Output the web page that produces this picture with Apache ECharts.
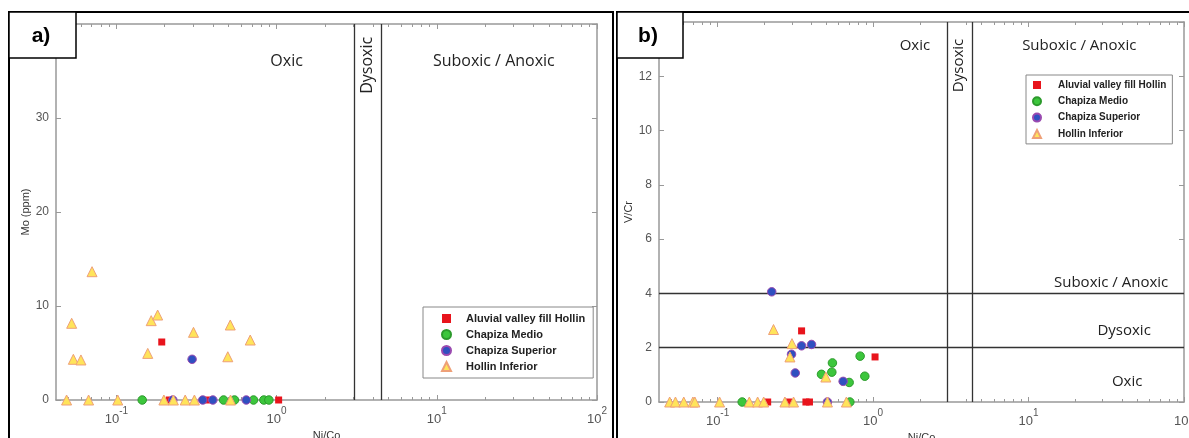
<!DOCTYPE html>
<html><head><meta charset="utf-8">
<script src="https://cdn.jsdelivr.net/npm/echarts@6/dist/echarts.min.js"></script>
<style>html,body{margin:0;padding:0;background:#fff}#c{width:1189px;height:438px}</style>
</head><body><div id="c"></div><script>
// ---------------- DATA ----------------
const seriesNames = ['Aluvial valley fill Hollin', 'Chapiza Medio', 'Chapiza Superior', 'Hollin Inferior'];

// Panel a) Ni/Co vs Mo (ppm)
const aAluvial = [[0.192, 6.17], [0.214, 0], [0.365, 0], [1.03, 0]];
const aMedio = [[0.145, 0], [0.467, 0], [0.546, 0], [0.718, 0], [0.833, 0], [0.895, 0]];
const aSuperior = [[0.297, 4.33], [0.225, 0], [0.346, 0], [0.40, 0], [0.647, 0]];
const aHollin = [[0.0705, 13.65], [0.0526, 8.16], [0.0539, 4.33], [0.0601, 4.26], [0.165, 8.44], [0.181, 9.04],
  [0.157, 4.96], [0.303, 7.2], [0.514, 7.98], [0.496, 4.6], [0.685, 6.38],
  [0.0416, 0], [0.0489, 0], [0.0671, 0], [0.102, 0], [0.198, 0], [0.227, 0], [0.269, 0], [0.307, 0], [0.516, 0]];

// Panel b) Ni/Co vs V/Cr
const bAluvial = [[0.347, 2.62], [1.03, 1.66], [0.21, 0], [0.286, 0], [0.37, 0], [0.39, 0]];
const bMedio = [[0.466, 1.02], [0.548, 1.44], [0.543, 1.1], [0.702, 0.72], [0.826, 1.69], [0.885, 0.95], [0.144, 0], [0.709, 0]];
const bSuperior = [[0.223, 4.06], [0.299, 1.76], [0.316, 1.07], [0.347, 2.07], [0.402, 2.12], [0.642, 0.76], [0.509, 0]];
const bHollin = [[0.229, 2.67], [0.301, 2.15], [0.292, 1.66], [0.497, 0.92],
  [0.0417, 0], [0.0492, 0], [0.0536, 0], [0.0606, 0], [0.0694, 0], [0.0714, 0], [0.103, 0], [0.16, 0],
  [0.181, 0], [0.198, 0], [0.271, 0], [0.308, 0], [0.509, 0], [0.674, 0]];

// Axes
const xMin = 0.042, xMax = 100;
const decadeValues = [0.1, 1, 10, 100];
const decadeExponents = ['-1', '0', '1', '2'];
const minorValues = [0.05, 0.06, 0.07, 0.08, 0.09, 0.2, 0.3, 0.4, 0.5, 0.6, 0.7, 0.8, 0.9,
  2, 3, 4, 5, 6, 7, 8, 9, 20, 30, 40, 50, 60, 70, 80, 90];
const aY = [0, 40, 10]; // min, max, interval
const bY = [0, 14, 2];
const aYName = 'Mo (ppm)';
const bYName = 'V/Cr';
const xName = 'Ni/Co';

// Redox boundaries
const aBoundaries = [3.05, 4.5];
const bBoundaries = [3.0, 4.35];
const bHorizontal = [2, 4];

// Region labels: [text, x, y, rotated]
const aRegionLabels = [['Oxic', 1.155, 36, false], ['Dysoxic', 3.7, 35.6, true], ['Suboxic / Anoxic', 22.7, 36, false]];
const bRegionLabels = [['Oxic', 1.86, 13.14, false], ['Dysoxic', 3.56, 12.4, true], ['Suboxic / Anoxic', 21.2, 13.14, false],
  ['Suboxic / Anoxic', 34.0, 4.41, false], ['Dysoxic', 41.2, 2.64, false], ['Oxic', 43.1, 0.73, false]];

// ---------------- STYLES ----------------
const markerStyles = [
  { symbol: 'rect', symbolSize: 7, itemStyle: { color: '#e8141c', opacity: 1 } },
  { symbol: 'circle', symbolSize: 8.5, itemStyle: { color: '#3cc63c', borderColor: '#2c9a2c', borderWidth: 1, opacity: 1 } },
  { symbol: 'circle', symbolSize: 8.5, itemStyle: { color: '#2f50c0', borderColor: '#9a4ab0', borderWidth: 1, opacity: 1 } },
  { symbol: 'triangle', symbolSize: 10, itemStyle: { color: '#ffe45a', borderColor: '#eea078', borderWidth: 1, opacity: 1 } }
];
const axisColor = '#999';
const labelFont = 'Liberation Sans, Arial, sans-serif';
const regionFont = 'Open Sans, Noto Sans, sans-serif';

function expFormatter(v) {
  const lg = Math.log10(v);
  let idx = 0, best = 1e9;
  decadeValues.forEach((d, i) => { const e = Math.abs(Math.log10(d) - lg); if (e < best) { best = e; idx = i; } });
  return '{b|10}{s|' + decadeExponents[idx] + '}';
}

function makeXAxes(gridIndex) {
  const base = { type: 'log', logBase: 10, min: xMin, max: xMax, gridIndex: gridIndex, splitLine: { show: false } };
  return [
    Object.assign({}, base, {
      position: 'bottom',
      axisLine: { show: true, lineStyle: { color: axisColor, width: 1.5 } },
      axisTick: { show: true, inside: true, length: 5, customValues: decadeValues, lineStyle: { color: axisColor } },
      axisLabel: {
        show: true, customValues: decadeValues, formatter: expFormatter, margin: 6, color: '#555',
        fontFamily: labelFont,
        rich: {
          b: { fontSize: 13, color: '#555', lineHeight: 20, verticalAlign: 'bottom', fontFamily: labelFont },
          s: { fontSize: 10, color: '#555', lineHeight: 13, verticalAlign: 'top', fontFamily: labelFont }
        }
      },
      name: xName, nameLocation: 'middle', nameGap: 28,
      nameTextStyle: { fontSize: 11, color: '#333', fontFamily: labelFont }
    }),
    Object.assign({}, base, {
      position: 'bottom', axisLine: { show: false },
      axisTick: { show: true, inside: true, length: 3, customValues: minorValues, lineStyle: { color: axisColor } },
      axisLabel: { show: false }
    }),
    Object.assign({}, base, {
      position: 'top', axisLine: { show: true, lineStyle: { color: axisColor, width: 1.5 } },
      axisTick: { show: true, inside: true, length: 5, customValues: decadeValues, lineStyle: { color: axisColor } },
      axisLabel: { show: false }
    }),
    Object.assign({}, base, {
      position: 'top', axisLine: { show: false },
      axisTick: { show: true, inside: true, length: 3, customValues: minorValues, lineStyle: { color: axisColor } },
      axisLabel: { show: false }
    })
  ];
}

function makeYAxes(gridIndex, yr, name) {
  const base = { type: 'value', min: yr[0], max: yr[1], interval: yr[2], gridIndex: gridIndex, splitLine: { show: false } };
  return [
    Object.assign({}, base, {
      position: 'left',
      axisLine: { show: true, lineStyle: { color: axisColor, width: 1.5 } },
      axisTick: { show: true, inside: true, length: 5, lineStyle: { color: axisColor } },
      axisLabel: { show: true, margin: 7, fontSize: 12, color: '#555', fontFamily: labelFont },
      name: name, nameLocation: 'middle', nameGap: 25,
      nameTextStyle: { fontSize: 11, color: '#333', fontFamily: labelFont }
    }),
    Object.assign({}, base, {
      position: 'right',
      axisLine: { show: true, lineStyle: { color: axisColor, width: 1.5 } },
      axisTick: { show: true, inside: true, length: 5, lineStyle: { color: axisColor } },
      axisLabel: { show: false }
    })
  ];
}

function makeSeries(datasets, xIdx, yIdx) {
  return datasets.map((d, i) => Object.assign({
    type: 'scatter', name: seriesNames[i], data: d, xAxisIndex: xIdx, yAxisIndex: yIdx, z: 3 + i,
    silent: true, animation: false
  }, markerStyles[i]));
}

function makeAnnotation(xIdx, yIdx, vlines, hlines, labels, fs) {
  const lines = vlines.map(v => ({ xAxis: v })).concat(hlines.map(h => ({ yAxis: h })));
  return {
    type: 'scatter', data: [], xAxisIndex: xIdx, yAxisIndex: yIdx, z: 2, silent: true, animation: false,
    markLine: {
      silent: true, symbol: 'none', animation: false, label: { show: false },
      lineStyle: { color: '#333', width: 1.3, type: 'solid' },
      data: lines
    },
    markPoint: {
      silent: true, animation: false, symbol: 'circle', symbolSize: 0,
      data: labels.map(l => ({
        coord: [l[1], l[2]], value: l[0],
        label: {
          show: true, position: 'inside', formatter: l[0], rotate: l[3] ? 90 : 0,
          fontSize: fs, color: '#222', fontFamily: regionFont
        }
      }))
    }
  };
}

const xA = makeXAxes(0), xB = makeXAxes(1);
const yA = makeYAxes(0, aY, aYName), yB = makeYAxes(1, bY, bYName);

const legendBase = {
  orient: 'vertical', data: seriesNames, borderColor: '#888', borderWidth: 1, backgroundColor: '#fff',
  selectedMode: false, z: 10
};

const option = {
  backgroundColor: '#fff',
  animation: false,
  grid: [
    { left: 56, top: 24, width: 541, height: 376, outerBoundsMode: 'none', containLabel: false },
    { left: 659, top: 22, width: 525, height: 380, outerBoundsMode: 'none', containLabel: false }
  ],
  xAxis: xA.concat(xB),
  yAxis: yA.concat(yB),
  legend: [
    Object.assign({}, legendBase, {
      left: 423, top: 307, itemWidth: 9, itemHeight: 9, itemGap: 5, padding: [6, 8, 6, 18],
      textStyle: { fontSize: 11, color: '#222', fontWeight: 'bold', fontFamily: labelFont, padding: [0, 0, 0, 10] }
    }),
    Object.assign({}, legendBase, {
      left: 1026, top: 75, itemWidth: 8, itemHeight: 8, itemGap: 6.3, padding: [5, 6, 5, 6],
      textStyle: { fontSize: 10, color: '#222', fontWeight: 'bold', fontFamily: labelFont, padding: [0, 0, 0, 12] }
    })
  ],
  series: [makeAnnotation(0, 0, aBoundaries, [], aRegionLabels, 16)]
    .concat(makeSeries([aAluvial, aMedio, aSuperior, aHollin], 0, 0))
    .concat([makeAnnotation(4, 2, bBoundaries, bHorizontal, bRegionLabels, 15)])
    .concat(makeSeries([bAluvial, bMedio, bSuperior, bHollin], 4, 2)),
  graphic: [
    { type: 'rect', z: 100, shape: { x: 9, y: 12, width: 604, height: 440 }, style: { fill: 'none', stroke: '#000', lineWidth: 2 } },
    { type: 'rect', z: 100, shape: { x: 617, y: 12, width: 600, height: 440 }, style: { fill: 'none', stroke: '#000', lineWidth: 2 } },
    { type: 'rect', z: 101, shape: { x: 9, y: 12, width: 67, height: 46 }, style: { fill: '#fff', stroke: '#000', lineWidth: 1.5 } },
    { type: 'rect', z: 101, shape: { x: 617, y: 12, width: 66, height: 46 }, style: { fill: '#fff', stroke: '#000', lineWidth: 1.5 } },
    { type: 'text', z: 102, x: 41, y: 36, style: { text: 'a)', font: 'bold 21px Liberation Sans, Arial, sans-serif', fill: '#000', align: 'center', verticalAlign: 'middle' } },
    { type: 'text', z: 102, x: 648, y: 36, style: { text: 'b)', font: 'bold 21px Liberation Sans, Arial, sans-serif', fill: '#000', align: 'center', verticalAlign: 'middle' } }
  ]
};

const chart = echarts.init(document.getElementById('c'), null, { renderer: 'canvas' });
chart.setOption(option);
</script></body></html>
